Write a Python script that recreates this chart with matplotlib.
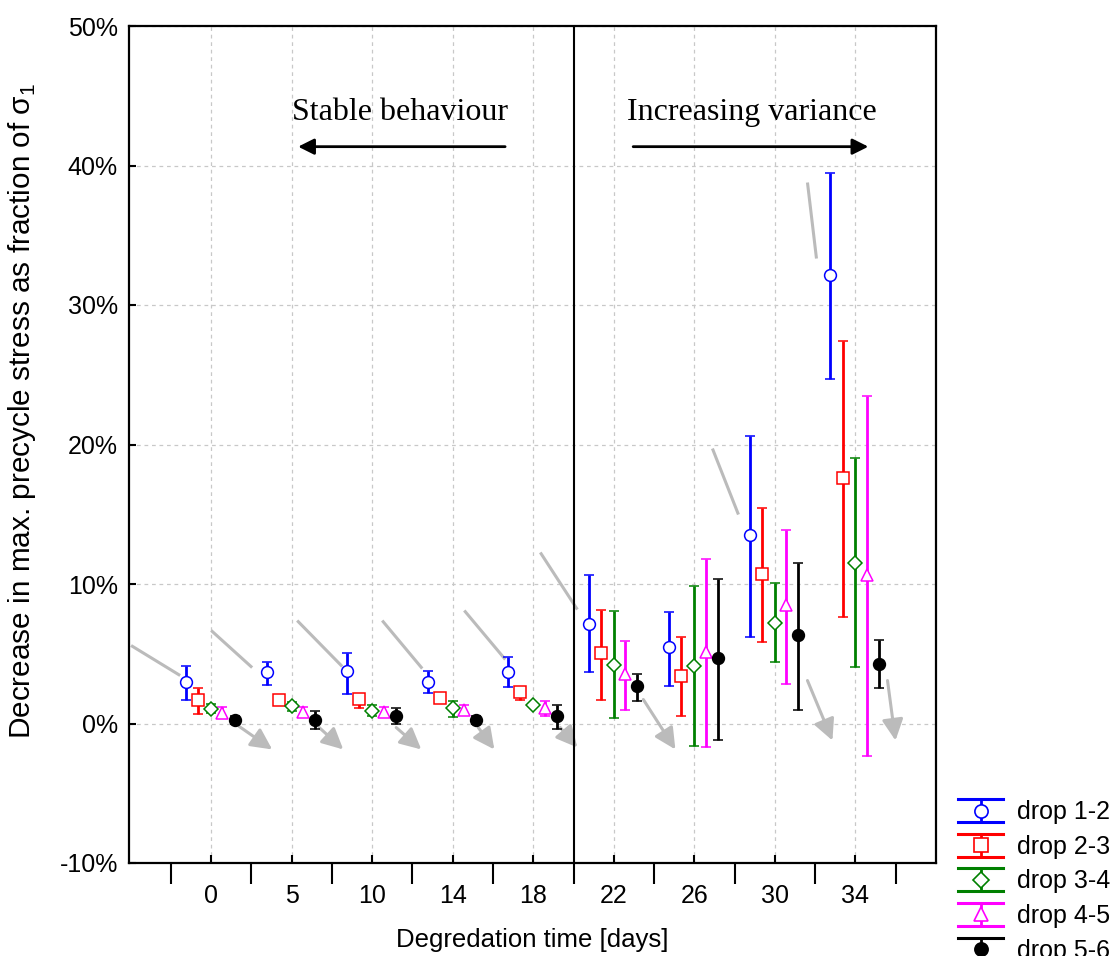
import matplotlib
matplotlib.use("Agg")
from matplotlib import pyplot as plt
from matplotlib import font_manager
from matplotlib.legend_handler import HandlerBase
from matplotlib.container import ErrorbarContainer
from matplotlib.lines import Line2D
import numpy as np

# categories (degradation time, days)
days = ["0", "5", "10", "14", "18", "22", "26", "30", "34"]

# mean decrease (%) and error bar ends for each drop
drop12_mean = [2.99, 3.70, 3.73, 2.99, 3.70, 7.15, 5.47, 13.5, 32.14]
drop12_hi = [4.09, 4.44, 5.07, 3.73, 4.78, 10.61, 8.00, 20.6, 39.43]
drop12_lo = [1.72, 2.75, 2.15, 2.17, 2.63, 3.70, 2.68, 6.19, 24.68]

drop23_mean = [1.70, 1.70, 1.79, 1.84, 2.29, 5.02, 3.44, 10.75, 17.63]
drop23_hi = [2.53, 1.85, 2.10, 1.95, 2.50, 8.12, 6.19, 15.48, 27.45]
drop23_lo = [0.69, 1.55, 1.10, 1.70, 1.72, 1.67, 0.53, 5.83, 7.60]

drop34_mean = [1.05, 1.24, 0.93, 1.08, 1.34, 4.21, 4.11, 7.22, 11.54]
drop34_hi = [1.38, 1.53, 1.36, 1.60, 1.40, 8.05, 9.89, 10.04, 19.02]
drop34_lo = [0.72, 0.88, 0.55, 0.48, 1.28, 0.36, -1.62, 4.44, 4.06]

drop45_mean = [0.77, 0.81, 0.84, 0.95, 1.10, 3.54, 5.14, 8.46, 10.61]
drop45_hi = [1.17, 1.17, 1.20, 1.31, 1.60, 5.90, 11.76, 13.88, 23.51]
drop45_lo = [0.38, 0.48, 0.48, 0.60, 0.53, 0.95, -1.69, 2.84, -2.34]

drop56_mean = [0.26, 0.26, 0.57, 0.24, 0.57, 2.72, 4.73, 6.31, 4.28]
drop56_hi = [0.57, 0.93, 1.10, 0.55, 1.36, 3.58, 10.39, 11.49, 5.97]
drop56_lo = [-0.05, -0.38, 0.00, -0.05, -0.36, 1.62, -1.15, 1.00, 2.53]

labels = ["drop 1-2", "drop 2-3", "drop 3-4", "drop 4-5", "drop 5-6"]

# grey trend guides: (x0, y0, x1, y1) before the group, arrow after it
trend_lines = [
    (-0.994, 5.59, -0.385, 3.44), (0.0, 6.67, 0.509, 4.01),
    (1.068, 7.38, 1.627, 4.09), (2.124, 7.38, 2.621, 3.94),
    (3.143, 8.10, 3.652, 4.59), (4.087, 12.26, 4.547, 8.17),
    (6.224, 19.71, 6.547, 14.98), (7.404, 38.78, 7.516, 33.33),
]
trend_arrows = [
    (0.348, -0.21, 0.758, -1.86), (1.342, -0.29, 1.640, -1.86),
    (2.298, -0.29, 2.609, -1.86), (3.317, -0.29, 3.516, -1.86),
    (4.335, -0.29, 4.547, -1.72), (5.366, 1.72, 5.764, -1.86),
    (7.404, 3.08, 7.714, -1.22), (8.398, 3.08, 8.497, -1.22),
]

names = {f.name for f in font_manager.fontManager.ttflist}
narrow = "Liberation Sans Narrow" if "Liberation Sans Narrow" in names else "Liberation Sans"
plt.rcParams["font.family"] = ["Liberation Sans", "DejaVu Sans"]


class HandlerDrop(HandlerBase):
    """Legend key: full-width caps, vertical bar and the marker."""

    def create_artists(self, legend, orig_handle, xdescent, ydescent,
                       width, height, fontsize, trans):
        line = orig_handle.lines[0]
        c = line.get_markeredgecolor()
        x0, x1 = -xdescent, -xdescent + width
        y0, y1 = -ydescent, -ydescent + height
        xm, ym = (x0 + x1) / 2, (y0 + y1) / 2
        arts = [
            Line2D([x0, x1], [y1, y1], color=c, lw=2.2),
            Line2D([x0, x1], [y0, y0], color=c, lw=2.2),
            Line2D([xm, xm], [y0, y1], color=c, lw=2.0),
            Line2D([xm], [ym], marker=line.get_marker(), ms=line.get_markersize() + 1,
                   mfc=line.get_markerfacecolor(), mec=c, mew=1.2, ls="none"),
        ]
        for a in arts:
            a.set_transform(trans)
        return arts


fig = plt.figure(figsize=(11.18, 9.56), dpi=100)
ax = fig.add_axes([129 / 1118, 93 / 956, 807 / 1118, 837 / 956])

x = np.arange(len(days))
offsets = [-0.31, -0.16, 0.0, 0.14, 0.29]
series = [
    (drop12_mean, drop12_lo, drop12_hi, "#0000ff", "o", "white"),
    (drop23_mean, drop23_lo, drop23_hi, "#ff0000", "s", "white"),
    (drop34_mean, drop34_lo, drop34_hi, "#008000", "D", "white"),
    (drop45_mean, drop45_lo, drop45_hi, "#ff00ff", "^", "white"),
    (drop56_mean, drop56_lo, drop56_hi, "#000000", "o", "black"),
]
handles = []
for (m, lo, hi, col, mk, fc), off, lab in zip(series, offsets, labels):
    m = np.array(m)
    yerr = [m - np.array(lo), np.array(hi) - m]
    ms = 8.5 if mk != "D" else 7
    h = ax.errorbar(x + off, m, yerr=yerr, fmt=mk, color=col, ecolor=col,
                    mfc=fc, mec=col, mew=1.1, ms=ms, elinewidth=2.0,
                    capsize=3.5, capthick=2.0, label=lab, zorder=4)
    handles.append(h)

grey = "#bbbbbb"
for x0, y0, x1, y1 in trend_lines:
    ax.plot([x0, x1], [y0, y1], color=grey, lw=2.2, zorder=2, solid_capstyle="butt")
for x0, y0, x1, y1 in trend_arrows:
    ax.annotate("", xy=(x1, y1), xytext=(x0, y0),
                arrowprops=dict(arrowstyle="-|>", color=grey, lw=2.2,
                                mutation_scale=32, shrinkA=0, shrinkB=0),
                zorder=2)

ax.axvline(4.5, color="black", lw=1.5, zorder=3)

# region labels
ax.text(2.34, 43.8, "Stable behaviour", family="Liberation Serif", fontsize=23,
        ha="center", va="center")
ax.annotate("", xy=(1.08, 41.35), xytext=(3.65, 41.35),
            arrowprops=dict(arrowstyle="-|>", color="black", lw=2,
                            mutation_scale=24, shrinkA=0, shrinkB=0))
ax.text(6.72, 43.8, "Increasing variance", family="Liberation Serif", fontsize=23,
        ha="center", va="center")
ax.annotate("", xy=(8.16, 41.35), xytext=(5.24, 41.35),
            arrowprops=dict(arrowstyle="-|>", color="black", lw=2,
                            mutation_scale=24, shrinkA=0, shrinkB=0))

ax.set_xlim(-1.02, 9.0)
ax.set_ylim(-10, 50)
ax.set_xticks(x)
ax.set_xticklabels(days, family=narrow, fontsize=18)
ax.set_xticks(np.arange(-0.5, len(days)), minor=True)
ax.tick_params(axis="x", which="major", direction="in", length=6, width=1.5, pad=15)
ax.tick_params(axis="x", which="minor", direction="out", length=15, width=1.5)
ax.set_yticks(np.arange(-10, 51, 10))
ax.set_yticklabels([f"{v}%" for v in range(-10, 51, 10)], fontsize=18)
ax.tick_params(axis="y", direction="in", length=5, width=1.5, pad=8)
ax.grid(True, which="major", color="#c8c8c8", ls=(0, (3, 3)), lw=0.9)
ax.set_axisbelow(True)
for s in ax.spines.values():
    s.set_linewidth(1.6)

fig.text(532 / 1118, 1 - 940 / 956, "Degredation time [days]", family=narrow, fontsize=18.5,
         ha="center", va="center")
fig.text(22 / 1118, 1 - 411 / 956, "Decrease in max. precycle stress as fraction of σ$_\\mathregular{1}$",
         family=narrow, fontsize=21.4, rotation=90, ha="center", va="center")

fig.legend(handles=handles, labels=labels, handler_map={ErrorbarContainer: HandlerDrop()},
           loc="upper left", bbox_to_anchor=(958 / 1118, 1 - 799 / 956),
           frameon=False, fontsize=18, borderpad=0, borderaxespad=0,
           handlelength=1.8, handleheight=1.05, handletextpad=0.55, labelspacing=0.38)

fig.savefig("out.png", dpi=100)
